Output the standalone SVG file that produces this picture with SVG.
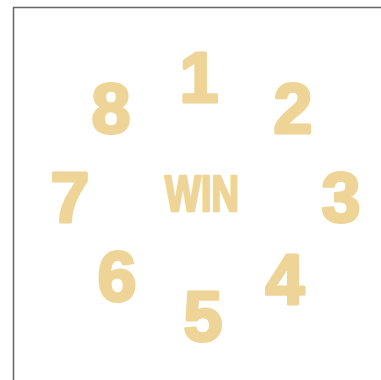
<svg xmlns="http://www.w3.org/2000/svg" width="381" height="380" viewBox="0 0 381 380">
<style>
.n{font-family:"Liberation Sans",Arial,sans-serif;font-weight:bold;font-size:70px;fill:#EED496;stroke:#EED496;stroke-width:3;stroke-linejoin:round;text-anchor:middle}
.w{font-family:"Liberation Sans Narrow","Liberation Sans",Arial,sans-serif;font-weight:bold;font-size:50px;fill:#EED496;stroke:#EED496;stroke-width:2.5;stroke-linejoin:round;text-anchor:middle}
</style>
<rect width="381" height="380" fill="#fff"/>
<path d="M13.5,380 V7.5 H381" fill="none" stroke="#666" stroke-width="1.5"/>
<g id="n1"><text class="n" x="199" y="102">1</text></g>
<g id="n2"><text class="n" x="293" y="133">2</text></g>
<g id="n3"><text class="n" x="341" y="222">3</text></g>
<g id="n4"><text class="n" x="285" y="304">4</text></g>
<g id="n5"><text class="n" x="203" y="341">5</text></g>
<g id="n6"><text class="n" x="117" y="301">6</text></g>
<g id="n7"><text class="n" x="70" y="222">7</text></g>
<g id="n8"><text class="n" x="111" y="133">8</text></g>
<g id="win"><text class="w" x="202" y="211" textLength="74" lengthAdjust="spacingAndGlyphs">WIN</text></g>
<g id="connectors"></g>
</svg>
